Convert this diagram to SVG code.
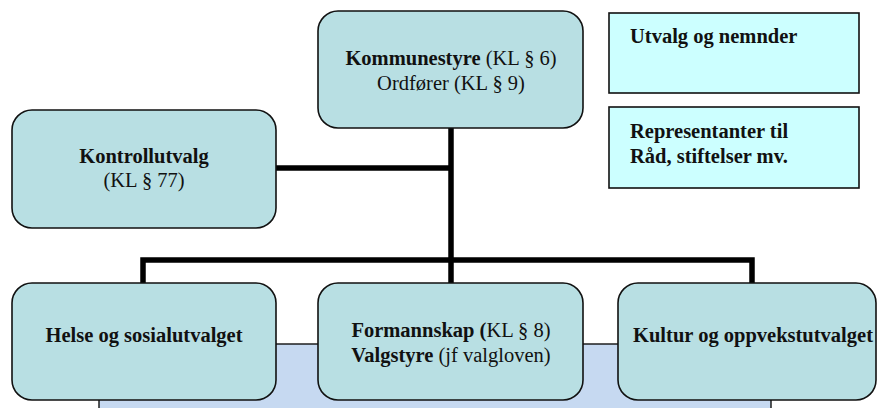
<svg xmlns="http://www.w3.org/2000/svg" width="877" height="408" viewBox="0 0 877 408">
<style>
.rb{fill:#B8DFE3;stroke:#111;stroke-width:1.6}
.sq{fill:#CCFFFF;stroke:#111;stroke-width:1.6}
.c{fill:none;stroke:#000;stroke-width:5.5}
text{font-family:'Liberation Serif','Times New Roman',serif;font-size:20.5px;fill:#111}
.b{font-weight:bold}
</style>
<rect id="bg" x="99" y="344" width="672" height="70" fill="#C6D9F1" stroke="#111" stroke-width="1.4"/>
<g id="connectors">
<path class="c" d="M451 127 V283"/>
<path class="c" d="M276 168 H451"/>
<path class="c" d="M143 283 V260 H752 V283"/>
</g>
<g id="kommunestyre">
<rect class="rb" x="318" y="11" width="265" height="117" rx="20"/>
<text x="451" y="65" text-anchor="middle"><tspan class="b">Kommunestyre</tspan> (KL § 6)</text>
<text x="451" y="90" text-anchor="middle">Ordfører (KL § 9)</text>
</g>
<g id="kontrollutvalg">
<rect class="rb" x="12" y="110" width="264" height="118" rx="20"/>
<text class="b" x="144" y="163" text-anchor="middle">Kontrollutvalg</text>
<text x="144" y="187" text-anchor="middle">(KL § 77)</text>
</g>
<g id="utvalg">
<rect class="sq" x="609" y="13" width="250" height="80"/>
<text class="b" x="630" y="43">Utvalg og nemnder</text>
</g>
<g id="representanter">
<rect class="sq" x="609" y="107" width="250" height="81"/>
<text class="b" x="630" y="138">Representanter til</text>
<text class="b" x="630" y="163">Råd, stiftelser mv.</text>
</g>
<g id="helse">
<rect class="rb" x="12" y="283" width="264" height="117" rx="20"/>
<text class="b" x="144" y="342" text-anchor="middle">Helse og sosialutvalget</text>
</g>
<g id="formannskap">
<rect class="rb" x="318" y="283" width="265" height="117" rx="20"/>
<text x="451" y="337" text-anchor="middle"><tspan class="b">Formannskap (</tspan>KL § 8)</text>
<text x="451" y="362" text-anchor="middle"><tspan class="b">Valgstyre</tspan> (jf valgloven)</text>
</g>
<g id="kultur">
<rect class="rb" x="618" y="283" width="258" height="117" rx="20"/>
<text class="b" x="753" y="342" text-anchor="middle">Kultur og oppvekstutvalget</text>
</g>
</svg>
